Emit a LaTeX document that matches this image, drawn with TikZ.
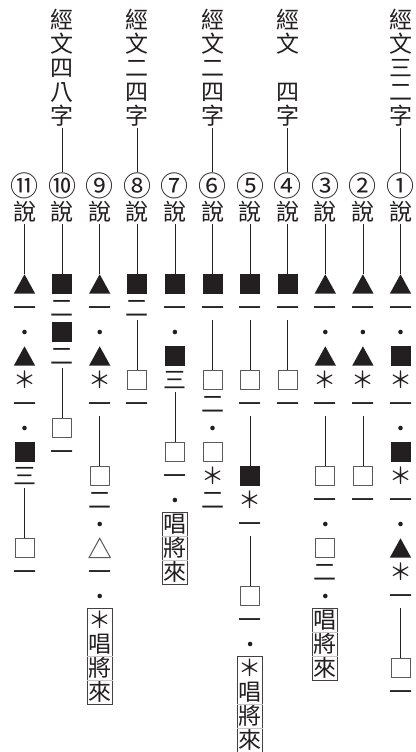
\documentclass[tikz,border=0pt]{standalone}
\usepackage{fontspec}
\newfontfamily\cjk{Noto Sans CJK TC}
\definecolor{ink}{HTML}{231F20}
\definecolor{sqgray}{HTML}{5A5A5A}
\tikzset{
 txt/.style={font=\cjk\fontsize{23pt}{23pt}\selectfont, inner sep=0pt, text height=20.24pt, text depth=2.76pt, minimum height=24pt, text=ink},
 num/.style={font=\cjk\fontsize{28pt}{28pt}\selectfont, inner sep=0pt, text height=24.64pt, text depth=3.36pt, text=ink},
 lnk/.style={draw=ink, line width=0.8pt},
 sqf/.style={fill=ink, minimum size=20pt, inner sep=0pt},
 sqo/.style={draw=sqgray, line width=1pt, minimum size=19pt, inner sep=0pt},
 trin/.style={minimum width=21pt, minimum height=19pt, inner sep=0pt},
 dotn/.style={circle, fill=ink, minimum size=4.6pt, inner sep=0pt},
 boxn/.style={draw=ink!85, line width=0.9pt, minimum width=25pt, inner sep=0pt},
 sepl/.style={draw=gray!45, line width=0.8pt},
}
\newcommand\cT[4]{\node[txt] (#1) at (#2,#3) {#4};}
\newcommand\cN[3]{\node[num] (#1) at (#2,-1.083) {#3};}
\newcommand\cD[3]{\node[dotn] (#1) at (#2,#3) {};}
\newcommand\cSF[3]{\node[sqf] (#1) at (#2,#3) {};}
\newcommand\cSO[3]{\node[sqo] (#1) at (#2,#3) {};}
\newcommand\cTF[3]{\node[trin] (#1) at (#2,#3) {}; \fill[ink] (#1.south west) -- (#1.south east) -- (#1.north) -- cycle;}
\newcommand\cTO[3]{\node[trin] (#1) at (#2,#3) {}; \draw[sqgray, line width=1pt] (#1.south west) -- (#1.south east) -- (#1.north) -- cycle;}
\begin{document}
\begin{tikzpicture}
\fill[white] (0pt,0pt) rectangle (415pt,-752pt);
\useasboundingbox (0pt,0pt) rectangle (415pt,-752pt);
\begin{scope}[x=-37.6pt, y=-24pt, shift={(400.5pt,-212pt)}]
% ---- column 1
\cT{ah1}{0}{-8}{經}\cT{ah2}{0}{-7}{文}\cT{ah3}{0}{-6}{三}\cT{ah4}{0}{-5}{二}\cT{ah5}{0}{-4}{字}
\cN{an}{0}{①}
\cT{as}{0}{0}{說}
\cTF{a03}{0}{3}
\cT{a04}{0}{4}{一}
\cD{a05}{0}{5}
\cSF{a06}{0}{6}
\cT{a07}{0}{7}{＊}
\cT{a08}{0}{8}{一}
\cD{a09}{0}{9}
\cSF{a10}{0}{10}
\cT{a11}{0}{11}{＊}
\cT{a12}{0}{12}{一}
\cD{a13}{0}{13}
\cTF{a14}{0}{14}
\cT{a15}{0}{15}{＊}
\cT{a16}{0}{16}{一}
\cSO{a19}{0}{19}
\cT{a20}{0}{20}{一}
\draw[lnk] (ah5)--(an); \draw[lnk] (as)--(a03); \draw[lnk] (a16)--(a19);
% ---- column 2
\cN{bn}{1}{②}
\cT{bs}{1}{0}{說}
\cTF{b03}{1}{3}
\cT{b04}{1}{4}{一}
\cD{b05}{1}{5}
\cTF{b06}{1}{6}
\cT{b07}{1}{7}{＊}
\cT{b08}{1}{8}{一}
\cSO{b11}{1}{11}
\cT{b12}{1}{12}{一}
\draw[lnk] (bs)--(b03); \draw[lnk] (b08)--(b11);
% ---- column 3
\cN{cn}{2}{③}
\cT{cs}{2}{0}{說}
\cTF{c03}{2}{3}
\cT{c04}{2}{4}{一}
\cD{c05}{2}{5}
\cTF{c06}{2}{6}
\cT{c07}{2}{7}{＊}
\cT{c08}{2}{8}{一}
\cSO{c11}{2}{11}
\cT{c12}{2}{12}{一}
\cD{c13}{2}{13}
\cSO{c14}{2}{14}
\cT{c15}{2}{15}{二}
\cD{c16}{2}{16}
\node[boxn, minimum height=72pt] (cbx) at (2,18) {};
\cT{cb1}{2}{17}{唱}\cT{cb2}{2}{18}{將}\cT{cb3}{2}{19}{來}
\draw[sepl] (cbx.west |- cb1.south) -- (cbx.east |- cb1.south);
\draw[sepl] (cbx.west |- cb2.south) -- (cbx.east |- cb2.south);
\draw[lnk] (cs)--(c03); \draw[lnk] (c08)--(c11);
% ---- column 4
\cT{dh1}{3}{-8}{經}\cT{dh2}{3}{-7}{文}\cT{dh4}{3}{-5}{四}\cT{dh5}{3}{-4}{字}
\cN{dn}{3}{④}
\cT{ds}{3}{0}{說}
\cSF{d03}{3}{3}
\cT{d04}{3}{4}{一}
\cSO{d07}{3}{7}
\cT{d08}{3}{8}{一}
\draw[lnk] (dh5)--(dn); \draw[lnk] (ds)--(d03); \draw[lnk] (d04)--(d07);
% ---- column 5
\cN{en}{4}{⑤}
\cT{es}{4}{0}{說}
\cSF{e03}{4}{3}
\cT{e04}{4}{4}{一}
\cSO{e07}{4}{7}
\cT{e08}{4}{8}{一}
\cSF{e11}{4}{11}
\cT{e12}{4}{12}{＊}
\cT{e13}{4}{13}{一}
\cSO{e16}{4}{16}
\cT{e17}{4}{17}{一}
\cD{e18}{4}{18}
\node[boxn, minimum height=96pt] (ebx) at (4,20.5) {};
\cT{eb1}{4}{19}{＊}\cT{eb2}{4}{20}{唱}\cT{eb3}{4}{21}{將}\cT{eb4}{4}{22}{來}
\draw[sepl] (ebx.west |- eb2.south) -- (ebx.east |- eb2.south);
\draw[sepl] (ebx.west |- eb3.south) -- (ebx.east |- eb3.south);
\draw[lnk] (es)--(e03); \draw[lnk] (e04)--(e07); \draw[lnk] (e08)--(e11); \draw[lnk] (e13)--(e16);
% ---- column 6
\cT{fh1}{5}{-8}{經}\cT{fh2}{5}{-7}{文}\cT{fh3}{5}{-6}{二}\cT{fh4}{5}{-5}{四}\cT{fh5}{5}{-4}{字}
\cN{fn}{5}{⑥}
\cT{fs}{5}{0}{說}
\cSF{f03}{5}{3}
\cT{f04}{5}{4}{一}
\cSO{f07}{5}{7}
\cT{f08}{5}{8}{二}
\cD{f09}{5}{9}
\cSO{f10}{5}{10}
\cT{f11}{5}{11}{＊}
\cT{f12}{5}{12}{二}
\draw[lnk] (fh5)--(fn); \draw[lnk] (fs)--(f03); \draw[lnk] (f04)--(f07);
% ---- column 7
\cN{gn}{6}{⑦}
\cT{gs}{6}{0}{說}
\cSF{g03}{6}{3}
\cT{g04}{6}{4}{一}
\cD{g05}{6}{5}
\cSF{g06}{6}{6}
\cT{g07}{6}{7}{三}
\cSO{g10}{6}{10}
\cT{g11}{6}{11}{一}
\cD{g12}{6}{12}
\node[boxn, minimum height=72pt] (gbx) at (6,14) {};
\cT{gb1}{6}{13}{唱}\cT{gb2}{6}{14}{將}\cT{gb3}{6}{15}{來}
\draw[sepl] (gbx.west |- gb1.south) -- (gbx.east |- gb1.south);
\draw[sepl] (gbx.west |- gb2.south) -- (gbx.east |- gb2.south);
\draw[lnk] (gs)--(g03); \draw[lnk] (g07)--(g10);
% ---- column 8
\cT{hh1}{7}{-8}{經}\cT{hh2}{7}{-7}{文}\cT{hh3}{7}{-6}{二}\cT{hh4}{7}{-5}{四}\cT{hh5}{7}{-4}{字}
\cN{hn}{7}{⑧}
\cT{hs}{7}{0}{說}
\cSF{h03}{7}{3}
\cT{h04}{7}{4}{二}
\cSO{h07}{7}{7}
\cT{h08}{7}{8}{一}
\draw[lnk] (hh5)--(hn); \draw[lnk] (hs)--(h03); \draw[lnk] (h04)--(h07);
% ---- column 9
\cN{in}{8}{⑨}
\cT{is}{8}{0}{說}
\cTF{i03}{8}{3}
\cT{i04}{8}{4}{一}
\cD{i05}{8}{5}
\cTF{i06}{8}{6}
\cT{i07}{8}{7}{＊}
\cT{i08}{8}{8}{一}
\cSO{i11}{8}{11}
\cT{i12}{8}{12}{二}
\cD{i13}{8}{13}
\cTO{i14}{8}{14}
\cT{i15}{8}{15}{一}
\cD{i16}{8}{16}
\node[boxn, minimum height=96pt] (ibx) at (8,18.5) {};
\cT{ib1}{8}{17}{＊}\cT{ib2}{8}{18}{唱}\cT{ib3}{8}{19}{將}\cT{ib4}{8}{20}{來}
\draw[sepl] (ibx.west |- ib2.south) -- (ibx.east |- ib2.south);
\draw[sepl] (ibx.west |- ib3.south) -- (ibx.east |- ib3.south);
\draw[lnk] (is)--(i03); \draw[lnk] (i08)--(i11);
% ---- column 10
\cT{jh1}{9}{-8}{經}\cT{jh2}{9}{-7}{文}\cT{jh3}{9}{-6}{四}\cT{jh4}{9}{-5}{八}\cT{jh5}{9}{-4}{字}
\cN{jn}{9}{⑩}
\cT{js}{9}{0}{說}
\cSF{j03}{9}{3}
\cT{j04}{9}{4}{二}
\cSF{j05}{9}{5}
\cT{j06}{9}{6}{二}
\cSO{j09}{9}{9}
\cT{j10}{9}{10}{一}
\draw[lnk] (jh5)--(jn); \draw[lnk] (js)--(j03); \draw[lnk] (j06)--(j09);
% ---- column 11
\cN{kn}{10}{⑪}
\cT{ks}{10}{0}{說}
\cTF{k03}{10}{3}
\cT{k04}{10}{4}{一}
\cD{k05}{10}{5}
\cTF{k06}{10}{6}
\cT{k07}{10}{7}{＊}
\cT{k08}{10}{8}{一}
\cD{k09}{10}{9}
\cSF{k10}{10}{10}
\cT{k11}{10}{11}{三}
\cSO{k14}{10}{14}
\cT{k15}{10}{15}{一}
\draw[lnk] (ks)--(k03); \draw[lnk] (k11)--(k14);
\end{scope}
\end{tikzpicture}
\end{document}
